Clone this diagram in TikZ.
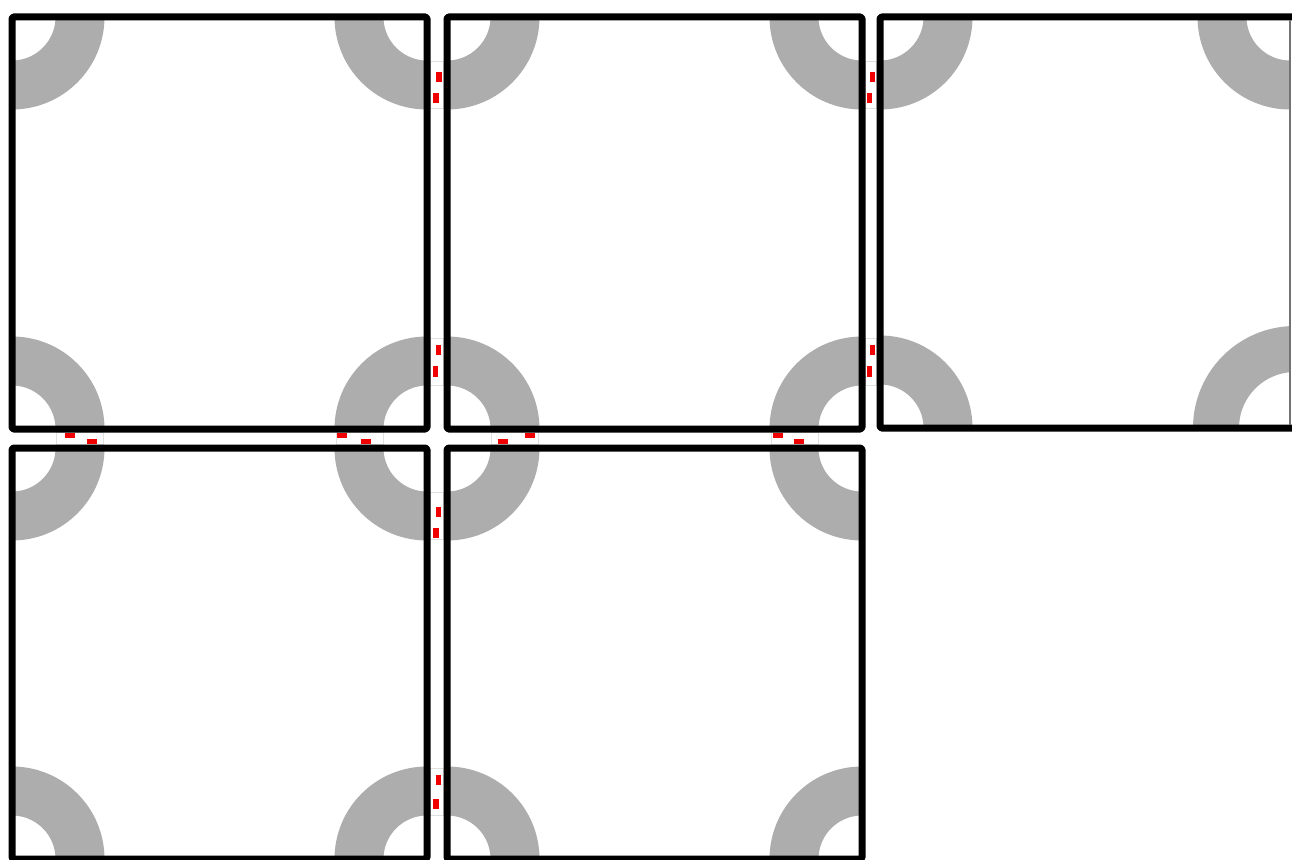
\documentclass[tikz,border=0pt]{standalone}
\definecolor{ringgray}{RGB}{173,173,173}
\definecolor{markred}{RGB}{240,0,0}
\tikzset{
  tileborder/.style={draw=black, line width=7pt, line join=round, rounded corners=1.5pt},
  ringband/.style={draw=ringgray, line width=49pt},
  gapbox/.style={draw=black!12, line width=0.8pt, fill=white},
  redmark/.style={fill=markred, draw=none},
}
\newcommand{\ringsat}[4]{% x1 y1 x2 y2 (tile), clip inside
  \begin{scope}
    \clip (#1,#2) rectangle (#3,#4);
    \draw[ringband] (#1,#2) circle (68);
    \draw[ringband] (#3,#2) circle (68);
    \draw[ringband] (#1,#4) circle (68);
    \draw[ringband] (#3,#4) circle (68);
  \end{scope}}
\begin{document}
\begin{tikzpicture}[x=1pt,y=-1pt]
\useasboundingbox (0,0) rectangle (1292,859);
\fill[white] (0,0) rectangle (1292,859);

% corner coordinates of the tiles
\coordinate (t1a) at (12,17);   \coordinate (t1b) at (427,429);
\coordinate (t2a) at (447,17);  \coordinate (t2b) at (862,429);
\coordinate (t3a) at (880,17);  \coordinate (t3b) at (1296,428);
\coordinate (t4a) at (12,448);  \coordinate (t4b) at (427,859);
\coordinate (t5a) at (447,448); \coordinate (t5b) at (862,859);

% gray quarter rings, clipped to each tile
\ringsat{12}{17}{427}{429}
\ringsat{447}{17}{862}{429}
\ringsat{12}{448}{427}{859}
\ringsat{447}{448}{862}{859}
\begin{scope}
  \clip (880,17) rectangle (1290,428);
  \draw[ringband] (880,17) circle (68);
  \draw[ringband] (880,428) circle (68);
  \draw[ringband] (1290,17) circle (68);
  \draw[ringband, line width=46pt] (1295,428) circle (79);
\end{scope}

% faint boxes in the gaps
\draw[gapbox] (430.5,61) rectangle (443.5,108);
\draw[gapbox] (430.5,338) rectangle (443.5,385);
\draw[gapbox] (865.5,61) rectangle (876.5,108);
\draw[gapbox] (865.5,338) rectangle (876.5,385);
\draw[gapbox] (430.5,492) rectangle (443.5,539);
\draw[gapbox] (430.5,768) rectangle (443.5,815);
\draw[gapbox] (56,432.5) rectangle (103,444.5);
\draw[gapbox] (336,432.5) rectangle (383,444.5);
\draw[gapbox] (491,432.5) rectangle (538,444.5);
\draw[gapbox] (771,432.5) rectangle (818,444.5);

% tile borders
\draw[tileborder] (t1a) rectangle (t1b);
\draw[tileborder] (t2a) rectangle (t2b);
\draw[tileborder] (t4a) rectangle (t4b);
\draw[tileborder] (t5a) rectangle (t5b);
\draw[tileborder] (t3a) rectangle (t3b);
\draw[draw=black!55, line width=1.5pt] (1290,20.5) -- (1290,424.5);

% red marks, vertical gaps
\fill[redmark] (436,72) rectangle (441.5,82);
\fill[redmark] (433,93) rectangle (438.5,103);
\fill[redmark] (435.5,345) rectangle (441,355);
\fill[redmark] (432.7,366) rectangle (438.3,376.7);
\fill[redmark] (869.5,72) rectangle (875,82);
\fill[redmark] (866.5,93) rectangle (872.2,103);
\fill[redmark] (869.5,345) rectangle (875,355);
\fill[redmark] (866.5,366) rectangle (872.2,376.7);
\fill[redmark] (435.7,506.7) rectangle (441.2,516.5);
\fill[redmark] (433.3,527.5) rectangle (438.8,537.5);
\fill[redmark] (435.7,775) rectangle (441.2,785);
\fill[redmark] (433.3,798.5) rectangle (438.8,808.5);

% red marks, horizontal gaps
\fill[redmark] (65,433) rectangle (75,438);
\fill[redmark] (86.5,439) rectangle (96.5,444);
\fill[redmark] (337,433) rectangle (347,438);
\fill[redmark] (360.5,439) rectangle (370.5,444);
\fill[redmark] (498,439) rectangle (508,444);
\fill[redmark] (524.5,433) rectangle (534.5,438);
\fill[redmark] (773,433) rectangle (783,438);
\fill[redmark] (794,439) rectangle (804,444);
\end{tikzpicture}
\end{document}
